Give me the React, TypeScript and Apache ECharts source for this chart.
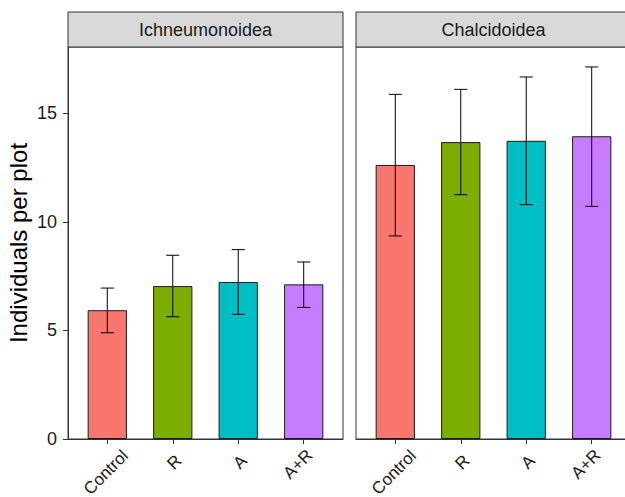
import React, { useEffect, useRef } from "react";
import * as echarts from "echarts";

const categories = ["Control", "R", "A", "A+R"];
const facets = ["Ichneumonoidea", "Chalcidoidea"];
const colors = ["#F8766D", "#7CAE00", "#00BFC4", "#C77CFF"];

const ichMeans = [5.93, 7.04, 7.23, 7.12];
const ichLow = [4.89, 5.63, 5.74, 6.06];
const ichHigh = [6.95, 8.46, 8.72, 8.15];

const chaMeans = [12.62, 13.67, 13.73, 13.94];
const chaLow = [9.35, 11.25, 10.79, 10.71];
const chaHigh = [15.87, 16.1, 16.67, 17.13];

const yTicks = [0, 5, 10, 15];
const yMax = 18.05;

const FONT = "'Liberation Sans', Arial, Helvetica, sans-serif";

// per-label nudges (top, right padding) to mimic the reference's label placement
const labelPads: number[][] = [
  [5, -12, 0, 0],
  [0, 0, 0, 0],
  [0, 0, 0, 0],
  [-4, -4, 0, 0],
];

export default function App() {
  const ref = useRef<HTMLDivElement>(null);
  useEffect(() => {
    if (!ref.current) return;
    const chart = echarts.init(ref.current, null, { renderer: "svg" });

    const panelTop = 47;
    const panelH = 392;
    const panelW = 275;
    const lefts = [68, 356];
    const barW = (panelW * 0.6) / 4.2;

    const labelBase = {
      rotate: 45,
      margin: 13,
      fontSize: 17,
      fontFamily: FONT,
      color: "#1a1a1a",
      align: "right",
      verticalAlign: "top",
      formatter: (v: number) => categories[Math.round(v) - 1] ?? "",
    };

    const xAxes: any[] = [];
    // main x axes: line and ticks
    lefts.forEach((_, gi) => {
      xAxes.push({
        type: "value",
        gridIndex: gi,
        position: "bottom",
        min: 0.4,
        max: 4.6,
        splitLine: { show: false },
        axisLine: { show: true, lineStyle: { color: "#333", width: 1 } },
        axisTick: {
          show: true,
          length: 5,
          customValues: [1, 2, 3, 4],
          lineStyle: { color: "#333", width: 1 },
        },
        axisLabel: { show: false },
      });
    });
    // label-only overlay axes, one per category
    lefts.forEach((_, gi) => {
      categories.forEach((c, ci) => {
        xAxes.push({
          type: "value",
          gridIndex: gi,
          position: "bottom",
          offset: 0,
          min: 0.4,
          max: 4.6,
          splitLine: { show: false },
          axisLine: { show: false },
          axisTick: { show: false },
          axisLabel: {
            ...labelBase,
            show: true,
            customValues: [ci + 1],
            padding: labelPads[ci],
          },
        });
      });
    });

    const yAxisBase = (gi: number) => ({
      type: "value",
      gridIndex: gi,
      min: 0,
      max: yMax,
      splitLine: { show: false },
      axisLine: { show: gi === 0, lineStyle: { color: "#333", width: 1 } },
      axisTick: {
        show: gi === 0,
        length: 5,
        customValues: yTicks,
        lineStyle: { color: "#333", width: 1 },
      },
      axisLabel: {
        show: gi === 0,
        customValues: yTicks,
        fontSize: 18,
        fontFamily: FONT,
        color: "#1a1a1a",
        margin: 11,
      },
      ...(gi === 0
        ? {
            name: "Individuals per plot",
            nameLocation: "middle",
            nameGap: 38,
            nameRotate: 90,
            nameTextStyle: { fontSize: 24, fontFamily: FONT, color: "#000" },
          }
        : {}),
    });

    const datasets = [
      { means: ichMeans, low: ichLow, high: ichHigh },
      { means: chaMeans, low: chaLow, high: chaHigh },
    ];

    const series: any[] = [];
    datasets.forEach((d, gi) => {
      series.push({
        type: "bar",
        xAxisIndex: gi,
        yAxisIndex: gi,
        barWidth: barW,
        data: d.means.map((m, i) => ({
          value: [i + 1, m],
          itemStyle: { color: colors[i], borderColor: "#1a1a1a", borderWidth: 1 },
        })),
      });
      series.push({
        type: "custom",
        xAxisIndex: gi,
        yAxisIndex: gi,
        z: 5,
        encode: { x: 0, y: [1, 2] },
        data: d.means.map((_, i) => [i + 1, d.low[i], d.high[i]]),
        renderItem: (params: any, api: any) => {
          const x = api.value(0);
          const lo = api.value(1);
          const hi = api.value(2);
          const top = api.coord([x, hi]);
          const bot = api.coord([x, lo]);
          const l = api.coord([x - 0.1, hi])[0];
          const r = api.coord([x + 0.1, hi])[0];
          const style = { stroke: "#000", lineWidth: 1 };
          return {
            type: "group",
            children: [
              { type: "line", shape: { x1: top[0], y1: top[1], x2: bot[0], y2: bot[1] }, style },
              { type: "line", shape: { x1: l, y1: top[1], x2: r, y2: top[1] }, style },
              { type: "line", shape: { x1: l, y1: bot[1], x2: r, y2: bot[1] }, style },
            ],
          };
        },
      });
    });

    const graphics: any[] = [];
    facets.forEach((f, gi) => {
      graphics.push({
        type: "rect",
        shape: { x: lefts[gi], y: 12, width: panelW, height: panelTop - 12 },
        style: { fill: "#d9d9d9", stroke: "#333", lineWidth: 1 },
        z: 10,
      });
      graphics.push({
        type: "text",
        x: lefts[gi] + panelW / 2,
        y: (12 + panelTop) / 2,
        style: {
          text: f,
          fontSize: 18,
          fontFamily: FONT,
          fill: "#1a1a1a",
          align: "center",
          verticalAlign: "middle",
        },
        z: 11,
      });
    });

    chart.setOption({
      animation: false,
      backgroundColor: "#fff",
      grid: lefts.map((l) => ({
        left: l,
        top: panelTop,
        width: panelW,
        height: panelH,
        show: true,
        borderColor: "#333",
        borderWidth: 1,
        backgroundColor: "#fff",
        containLabel: false,
        outerBoundsMode: "none",
      })),
      xAxis: xAxes,
      yAxis: [yAxisBase(0), yAxisBase(1)],
      series,
      graphic: graphics,
    });

    return () => chart.dispose();
  }, []);

  return (
    <div
      ref={ref}
      style={{ position: "fixed", left: 0, top: 0, width: 625, height: 497 }}
    />
  );
}
